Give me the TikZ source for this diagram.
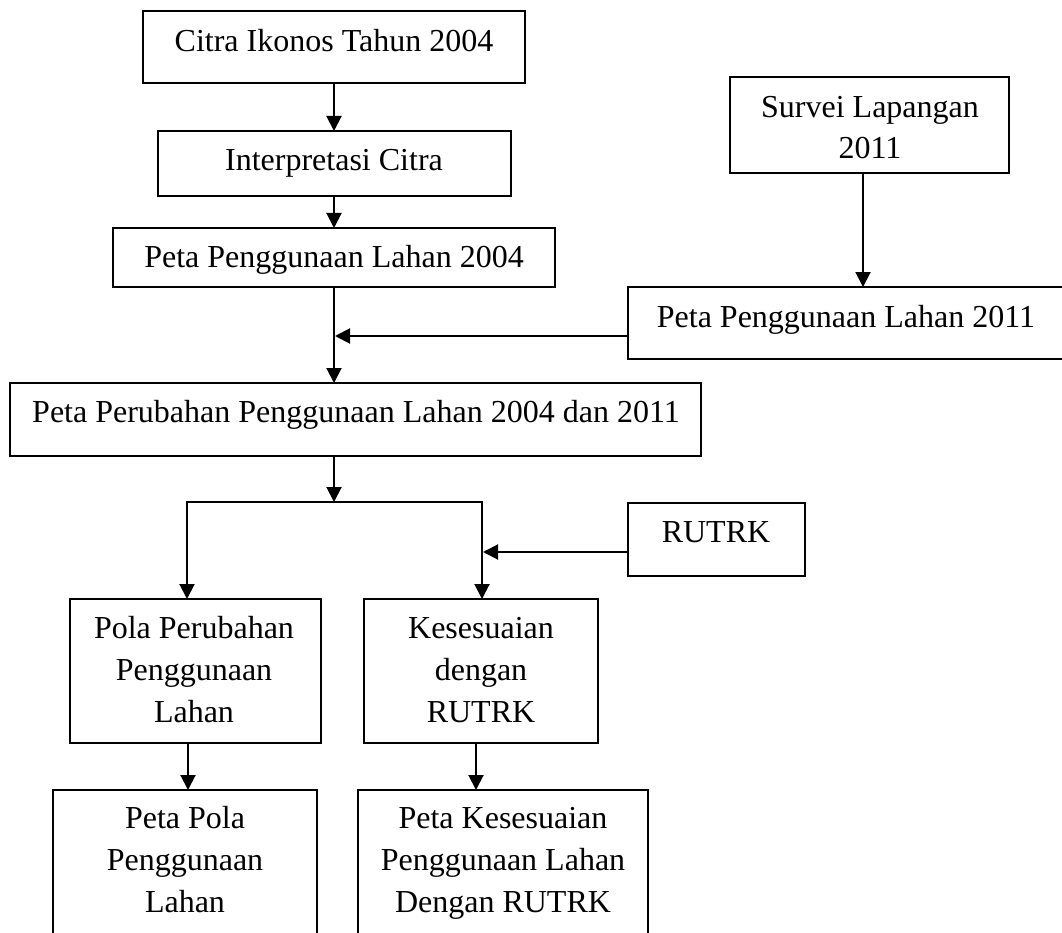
\documentclass[tikz,border=0pt]{standalone}
\usepackage{fontspec}
\setmainfont{Liberation Serif}
\usetikzlibrary{arrows.meta}
\begin{document}
\begin{tikzpicture}[x=1pt,y=-1pt,
  box/.style={draw, line width=1.4pt, inner sep=0pt, outer sep=0pt, anchor=north west},
  lbl/.style={anchor=base, inner sep=0pt, font=\fontsize{32}{42}\selectfont},
  arr/.style={line width=2pt, -{Triangle[length=15pt,width=15pt]}},
  ln/.style={line width=2pt}]
\useasboundingbox (0,0) rectangle (1062,933);
% boxes
\node[box, minimum width=382pt, minimum height=72pt] (b1) at (143,11) {};
\node[box, minimum width=353pt, minimum height=65pt] (b2) at (158,131) {};
\node[box, minimum width=442pt, minimum height=59pt] (b3) at (113,228) {};
\node[box, minimum width=279pt, minimum height=96pt] (s) at (730,77) {};
\node[box, minimum width=440pt, minimum height=72pt] (p11) at (628,287) {};
\node[box, minimum width=691pt, minimum height=73pt] (big) at (10,383) {};
\node[box, minimum width=177pt, minimum height=73pt] (r) at (628,503) {};
\node[box, minimum width=251pt, minimum height=144pt] (pola) at (70,599) {};
\node[box, minimum width=234pt, minimum height=144pt] (kes) at (364,599) {};
\node[box, minimum width=264pt, minimum height=180pt] (ppola) at (53,790) {};
\node[box, minimum width=290pt, minimum height=180pt] (pkes) at (358,790) {};
% texts
\node[lbl] (t1) at (334,52) {Citra Ikonos Tahun 2004};
\node[lbl] (t2) at (334,171) {Interpretasi Citra};
\node[lbl] (t3) at (334,267) {Peta Penggunaan Lahan 2004};
\node[lbl, font=\fontsize{32}{41}\selectfont] (ts) at (870,118) {\begin{tabular}[t]{@{}c@{}}Survei Lapangan\\2011\end{tabular}};
\node[lbl] (t11) at (846,327) {Peta Penggunaan Lahan 2011};
\node[lbl] (tbig) at (356,422) {Peta Perubahan Penggunaan Lahan 2004 dan 2011};
\node[lbl] (tr) at (716,542) {RUTRK};
\node[lbl] (tpola) at (194,638) {\begin{tabular}[t]{@{}c@{}}Pola Perubahan\\Penggunaan\\Lahan\end{tabular}};
\node[lbl] (tkes) at (481,638) {\begin{tabular}[t]{@{}c@{}}Kesesuaian\\dengan\\RUTRK\end{tabular}};
\node[lbl] (tpp) at (185,828) {\begin{tabular}[t]{@{}c@{}}Peta Pola\\Penggunaan\\Lahan\end{tabular}};
\node[lbl] (tpk) at (503,828) {\begin{tabular}[t]{@{}c@{}}Peta Kesesuaian\\Penggunaan Lahan\\Dengan RUTRK\end{tabular}};
% junction coordinates
\coordinate (j1) at (335,336);
\coordinate (br) at (334,502);
\coordinate (bl) at (187,502);
\coordinate (bR) at (482,502);
\coordinate (j2) at (483,552);
% connectors
\draw[arr] (b1.south) -- (b1.south |- b2.north);
\draw[arr] (b2.south -| b1.south) -- (b1.south |- b3.north);
\draw[arr] (b3.south) -- (b3.south |- big.north);
\draw[arr] ([xshift=-6.5pt]s.south) -- ([xshift=-6.5pt]s.south |- p11.north);
\draw[arr] (j1 -| p11.west) -- (j1);
\draw[arr] (big.south -| br) -- (br);
\draw[arr] (br) -| (bl |- pola.north);
\draw[arr] (br) -| (bR |- kes.north);
\draw[arr] (j2 -| r.west) -- (j2);
\draw[arr] ([xshift=-7.5pt]pola.south) -- ([xshift=-7.5pt]pola.south |- ppola.north);
\draw[arr] ([xshift=-5pt]kes.south) -- ([xshift=-5pt]kes.south |- pkes.north);
\end{tikzpicture}
\end{document}
